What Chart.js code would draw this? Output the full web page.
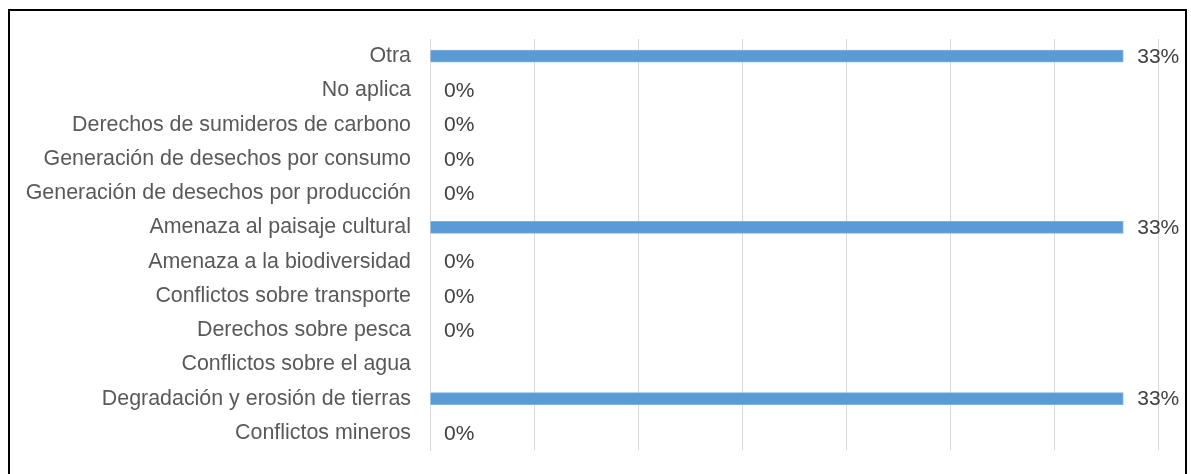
<!DOCTYPE html>
<html>
<head>
<meta charset="utf-8">
<script src="https://cdn.jsdelivr.net/npm/chart.js@4"></script>
<style>
  html, body { margin: 0; padding: 0; background: #fff; overflow: hidden; }
  .wrap { position: relative; width: 1191px; height: 474px; }
  .frame { position: absolute; left: 8px; top: 9px; width: 1179px; height: 480px; border: 2px solid #000; box-sizing: border-box; }
  canvas { position: absolute; left: 0; top: 0; }
</style>
</head>
<body>
<div class="wrap">
  <div class="frame"></div>
  <canvas id="myChart" width="1191" height="474"></canvas>
</div>
<script>
// Datos
const categorias = [
  "Otra",
  "No aplica",
  "Derechos de sumideros de carbono",
  "Generación de desechos por consumo",
  "Generación de desechos por producción",
  "Amenaza al paisaje cultural",
  "Amenaza a la biodiversidad",
  "Conflictos sobre transporte",
  "Derechos sobre pesca",
  "Conflictos sobre el agua",
  "Degradación y erosión de tierras",
  "Conflictos mineros"
];
const porcentajes = [33.33, 0, 0, 0, 0, 33.33, 0, 0, 0, null, 33.33, 0];
const ejeMax = 35;
const ejePaso = 5;

// Etiquetas de valor al final de cada barra
const etiquetas = {
  id: "etiquetas",
  afterDatasetsDraw(chart) {
    const ctx = chart.ctx;
    const meta = chart.getDatasetMeta(0);
    ctx.save();
    ctx.font = "21px 'Liberation Sans', Arial, sans-serif";
    ctx.fillStyle = "#404040";
    ctx.textBaseline = "middle";
    ctx.textAlign = "left";
    meta.data.forEach(function (bar, i) {
      const v = porcentajes[i];
      if (v === null) return;
      ctx.fillText(Math.round(v) + "%", bar.x + 14, bar.y + 1);
    });
    ctx.restore();
  }
};

const ctx = document.getElementById("myChart");

new Chart(ctx, {
  type: "bar",
  data: {
    labels: categorias,
    datasets: [
      {
        data: porcentajes,
        backgroundColor: "#5b9bd5",
        borderColor: "#7fb0de",
        borderWidth: 1,
        barThickness: 12,
      },
    ],
  },
  options: {
    indexAxis: "y",
    responsive: false,
    animation: false,
    layout: { padding: { left: 0, right: 33, top: 39, bottom: 24 } },
    plugins: {
      legend: { display: false },
      tooltip: { enabled: false },
    },
    scales: {
      x: {
        min: 0,
        max: ejeMax,
        ticks: { display: false, stepSize: ejePaso },
        grid: { color: "#d9d9d9", lineWidth: 1, drawTicks: false },
        border: { display: false },
        afterFit: function (s) { s.height = 0; },
      },
      y: {
        ticks: {
          color: "#595959",
          padding: 19,
          font: { family: "'Liberation Sans', Arial, sans-serif", size: 21.4 },
        },
        grid: { display: false, drawTicks: false },
        border: { display: true, color: "#d9d9d9", width: 1 },
        afterFit: function (s) {
          s.width = 430;
          s.paddingTop = 0;
          s.paddingBottom = 0;
        },
      },
    },
  },
  plugins: [etiquetas],
});
</script>
</body>
</html>
